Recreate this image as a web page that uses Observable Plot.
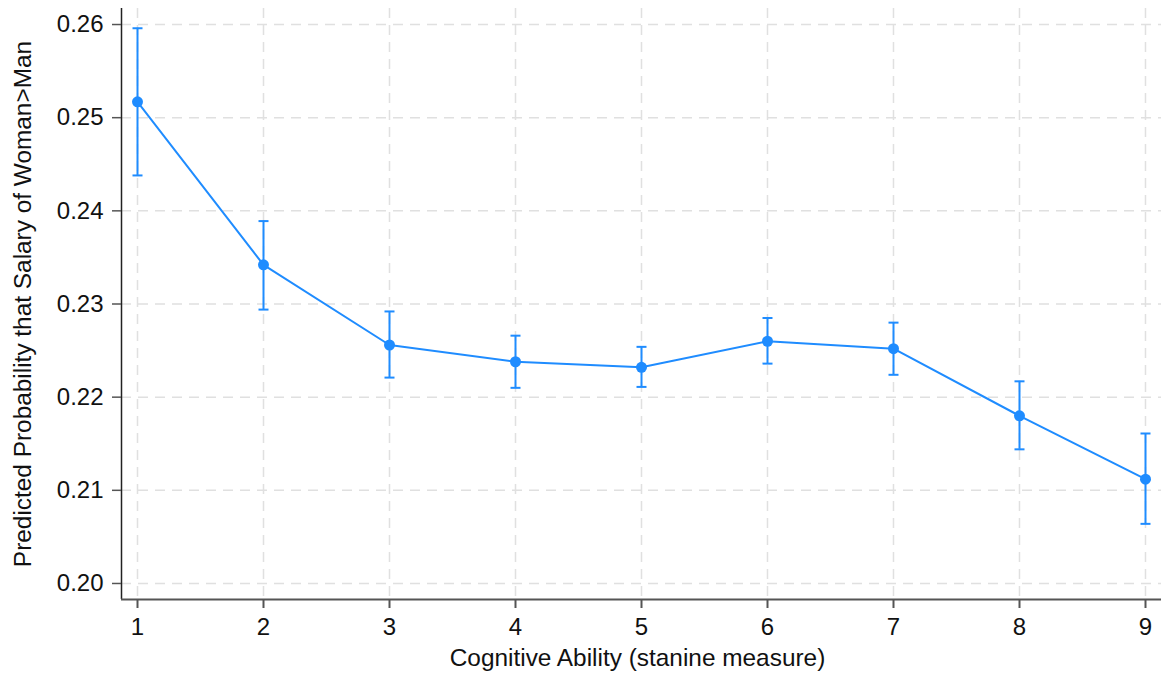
<!DOCTYPE html>
<html>
<head>
<meta charset="utf-8">
<script src="https://cdn.jsdelivr.net/npm/d3@7"></script>
<script src="https://cdn.jsdelivr.net/npm/@observablehq/plot@0.6"></script>
<style>
  html, body { margin: 0; padding: 0; background: #fff; }
  svg { display: block; }
</style>
</head>
<body>
<div id="chart"></div>
<script>
const stanine = [1, 2, 3, 4, 5, 6, 7, 8, 9];
const prob    = [0.2517, 0.2342, 0.2256, 0.2238, 0.2232, 0.2260, 0.2252, 0.2180, 0.2112];
const ciLow   = [0.2438, 0.2294, 0.2221, 0.2210, 0.2211, 0.2236, 0.2224, 0.2144, 0.2064];
const ciHigh  = [0.2596, 0.2389, 0.2292, 0.2266, 0.2254, 0.2285, 0.2280, 0.2217, 0.2161];
const yTicks  = [0.20, 0.21, 0.22, 0.23, 0.24, 0.25, 0.26];
const xTitle  = "Cognitive Ability (stanine measure)";
const yTitle  = "Predicted Probability that Salary of Woman>Man";
const xDomain = [0.873, 9.127];
const yDomain = [0.19828, 0.26172];

const data = stanine.map((s, i) => ({x: s, y: prob[i], lo: ciLow[i], hi: ciHigh[i]}));

const blue = "#1f8cff";
const font = "'Liberation Sans', Arial, sans-serif";
const capSymbol = {
  draw(ctx) { ctx.moveTo(-5, 0); ctx.lineTo(5, 0); }
};

const chart = Plot.plot({
  width: 1161,
  height: 680,
  marginLeft: 121,
  marginRight: 0,
  marginTop: 8,
  marginBottom: 81,
  style: {fontFamily: font, fontSize: "20px", color: "#111", background: "#fff"},
  x: {domain: xDomain},
  y: {domain: yDomain},
  marks: [
    Plot.gridX(stanine, {stroke: "#e0e0e0", strokeOpacity: 1, strokeDasharray: "10,7", strokeWidth: 1.5}),
    Plot.gridY(yTicks, {stroke: "#e0e0e0", strokeOpacity: 1, strokeDasharray: "10,7", strokeWidth: 1.5}),
    Plot.ruleX([xDomain[0]], {stroke: "#222", strokeWidth: 1.5}),
    Plot.ruleY([yDomain[0]], {stroke: "#555", strokeWidth: 2}),
    Plot.axisX(stanine, {tickSize: 9, tickPadding: 9, stroke: "#555", strokeWidth: 2, label: xTitle, labelAnchor: "center", labelOffset: 66, tickFormat: d => String(d)}),
    Plot.axisY(yTicks, {tickSize: 9, tickPadding: 9, stroke: "#555", strokeWidth: 1.5, tickFormat: d3.format(".2f"), label: yTitle, labelAnchor: "center", labelOffset: 108}),
    Plot.ruleX(data, {x: "x", y1: "lo", y2: "hi", stroke: blue, strokeWidth: 2}),
    Plot.dot(data, {x: "x", y: "lo", symbol: capSymbol, stroke: blue, strokeWidth: 2, r: 5}),
    Plot.dot(data, {x: "x", y: "hi", symbol: capSymbol, stroke: blue, strokeWidth: 2, r: 5}),
    Plot.line(data, {x: "x", y: "y", stroke: blue, strokeWidth: 2}),
    Plot.dot(data, {x: "x", y: "y", fill: blue, r: 5.5})
  ]
});
document.getElementById("chart").appendChild(chart);
chart.querySelectorAll("g[aria-label$='tick label'] text").forEach(t => {
  t.style.fontSize = "24px"; t.style.fontFamily = font;
});
chart.querySelectorAll("g[aria-label='x-axis label'] text").forEach(t => { t.style.fontSize = "24.4px"; t.style.fontFamily = font; t.textContent = xTitle; t.setAttribute("dx", "-4"); });
chart.querySelectorAll("g[aria-label='y-axis label'] text").forEach(t => { t.style.fontSize = "24.4px"; t.style.fontFamily = font; t.textContent = yTitle; });
</script>
</body>
</html>
